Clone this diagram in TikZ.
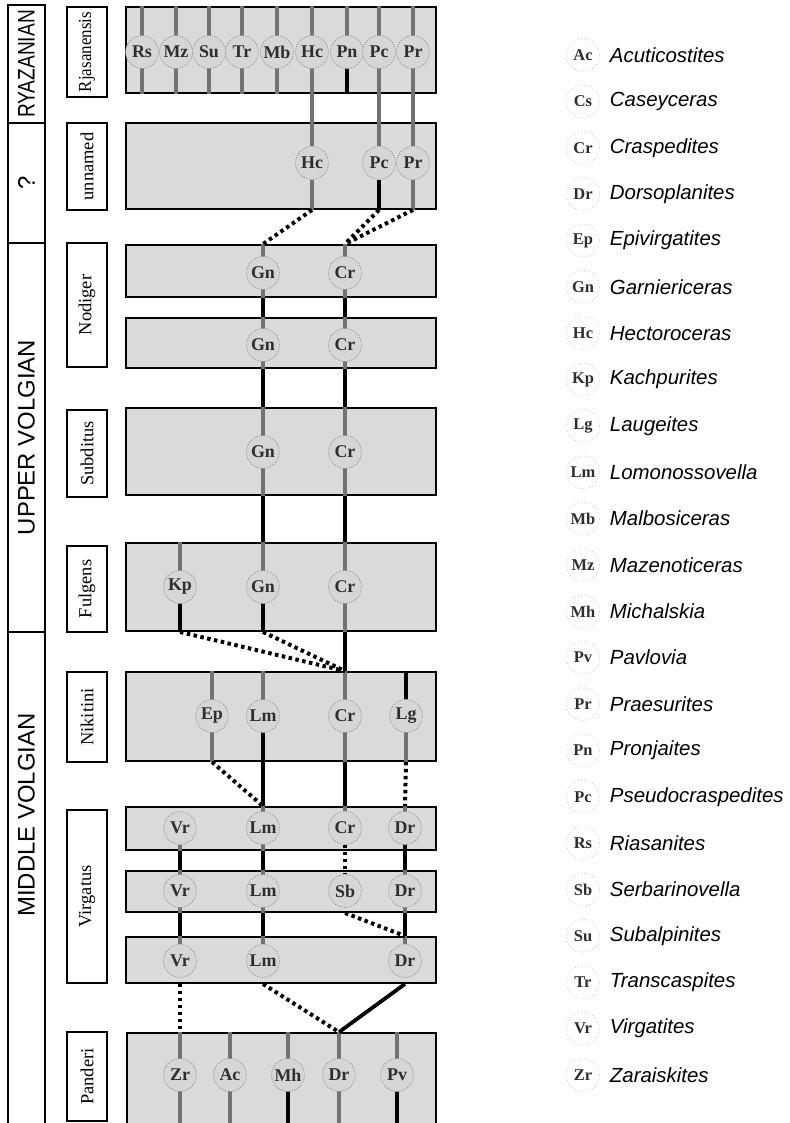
\documentclass[tikz,border=0pt]{standalone}
\usepackage{fontspec}
\setmainfont{Liberation Serif}
\setsansfont{Liberation Sans}
\usepackage{tikz}
\usetikzlibrary{positioning, fit, calc}
\definecolor{cZone} {HTML}{DADADA}
\definecolor{cTaxon}{HTML}{D6D6D6}
\definecolor{cRing} {HTML}{8A8A8A}
\definecolor{cStub} {HTML}{727272}
\definecolor{cInk}  {HTML}{2E2E2E}
\pgfdeclarelayer{front}
\pgfsetlayers{main,front}

\begin{document}
\begin{tikzpicture}[x=1bp, y=-1bp,
    era/.style={draw, line width=1.3pt, inner sep=0pt},
    eratext/.style={rotate=90, font=\sffamily\fontsize{24}{24}\selectfont},
    stagebox/.style={draw, line width=1.8pt, inner sep=0pt, fill=white},
    stagetext/.style={rotate=90, font=\fontsize{18.5}{18.5}\selectfont},
    zone/.style={draw, line width=1.9pt, fill=cZone, inner sep=0pt},
    taxon/.style={circle, draw=cRing, fill=cTaxon, line width=0.6pt, dash pattern=on 1.2pt off 1.2pt,
      minimum size=33, inner sep=0pt, text=cInk, font=\fontsize{18}{18}\selectfont\bfseries},
    key/.style={taxon, fill=white, draw=cRing!50, dash pattern=on 1pt off 2pt,
      font=\fontsize{16.5}{16.5}\selectfont\bfseries},
    genus/.style={font=\sffamily\itshape\fontsize{20.5}{20.5}\selectfont, inner sep=0pt},
    stub/.style={draw=cStub, line width=4.5pt},
    stubdark/.style={draw=black, line width=4pt},
    link/.style={draw=black, line width=3.8pt},
    gap/.style={draw=black, line width=4pt, dash pattern=on 3.5pt off 3.5pt},
  ]
  \path[use as bounding box] (0,0) rectangle (790,1123);

  % eras
  \node[era, fit={(8,5)(45,123)}]     (eRya) {};
  \node[era, fit={(8,123)(45,243)}]   (eUnk) {};
  \node[era, fit={(8,243)(45,632)}]   (eUpp) {};
  \node[era, fit={(8,632)(45,1130)}]  (eMid) {};
  \node[eratext, xscale=0.8] (tRya) at (eRya) {RYAZANIAN};
  \node[eratext] (tUnk) at (eUnk) {?};
  \node[eratext] (tUpp) at (eUpp) {UPPER VOLGIAN};
  \node[eratext] (tMid) at (26.5,815) {MIDDLE VOLGIAN};

  % zone names
  \node[stagebox, fit={(67,7)(107,97)}]      (sRja) {};
  \node[stagebox, fit={(67,123)(107,210)}]   (sUnn) {};
  \node[stagebox, fit={(67,243)(107,367)}]   (sNod) {};
  \node[stagebox, fit={(67,410)(107,497)}]   (sSub) {};
  \node[stagebox, fit={(67,546)(107,632)}]   (sFul) {};
  \node[stagebox, fit={(67,672)(107,762)}]   (sNik) {};
  \node[stagebox, fit={(67,810)(107,983)}]   (sVir) {};
  \node[stagebox, fit={(67,1032)(107,1121)}] (sPan) {};
  \node[stagetext, xscale=0.92] (nRja) at (sRja) {Rjasanensis};
  \node[stagetext] (nUnn) at (sUnn) {unnamed};
  \node[stagetext] (nNod) at (sNod) {Nodiger};
  \node[stagetext] (nSub) at (sSub) {Subditus};
  \node[stagetext] (nFul) at (sFul) {Fulgens};
  \node[stagetext] (nNik) at (sNik) {Nikitini};
  \node[stagetext] (nVir) at (sVir) {Virgatus};
  \node[stagetext] (nPan) at (sPan) {Panderi};

  % grey zones
  \node[zone, fit={(126,7)(436,93)}]     (zRja)  {};
  \node[zone, fit={(126,123)(436,209)}]  (zUnn)  {};
  \node[zone, fit={(126,245)(436,297)}]  (zNodA) {};
  \node[zone, fit={(126,318)(436,368)}]  (zNodB) {};
  \node[zone, fit={(126,408)(436,495)}]  (zSub)  {};
  \node[zone, fit={(126,543)(436,631)}]  (zFul)  {};
  \node[zone, fit={(126,672)(436,761)}]  (zNik)  {};
  \node[zone, fit={(126,807)(436,850)}]  (zVirA) {};
  \node[zone, fit={(126,871)(436,912)}]  (zVirB) {};
  \node[zone, fit={(126,937)(436,983)}]  (zVirC) {};
  \node[zone, fit={(127,1033)(436,1140)}] (zPan) {};

  \begin{pgfonlayer}{front}
    \foreach \t/\x in {Rs/142, Mz/176, Su/209, Tr/242, Mb/277, Hc/312, Pn/347, Pc/379, Pr/413}
      \node[taxon] (rja\t) at (\x,52) {\t};
    \foreach \t/\x in {Hc/312, Pc/379, Pr/413}
      \node[taxon] (unn\t) at (\x,163) {\t};
    \foreach \t/\x in {Gn/263, Cr/345} {
      \node[taxon] (nodA\t) at (\x,273) {\t};
      \node[taxon] (nodB\t) at (\x,345) {\t};
      \node[taxon] (sub\t)  at (\x,452) {\t};
    }
    \foreach \t/\x in {Kp/180, Gn/263, Cr/345}
      \node[taxon] (ful\t) at (\x,587) {\t};
    \foreach \t/\x in {Ep/212, Lm/263, Cr/345, Lg/406}
      \node[taxon] (nik\t) at (\x,716) {\t};
    \foreach \t/\x in {Vr/180, Lm/263, Cr/345, Dr/405}
      \node[taxon] (virA\t) at (\x,828) {\t};
    \foreach \t/\x in {Vr/180, Lm/263, Sb/345, Dr/405}
      \node[taxon] (virB\t) at (\x,891) {\t};
    \foreach \t/\x in {Vr/180, Lm/263, Dr/405}
      \node[taxon] (virC\t) at (\x,961) {\t};
    \foreach \t/\x in {Zr/180, Ac/230, Mh/288, Dr/339, Pv/397}
      \node[taxon] (pan\t) at (\x,1075) {\t};
  \end{pgfonlayer}

  % lines inside the zones
  \foreach \t in {Rs,Mz,Su,Tr,Mb,Hc,Pn,Pc,Pr}
    \draw[stub] (rja\t |- zRja.north) -- (rja\t |- zRja.south);
  \foreach \t in {Hc,Pc,Pr}
    \draw[stub] (rja\t) -- (unn\t) -- (unn\t |- zUnn.south);
  \foreach \t in {Gn,Cr}
    \draw[stub] (nodA\t |- zNodA.north) -- (nodA\t |- zNodA.south)
                (nodB\t |- zNodB.north) -- (nodB\t |- zNodB.south)
                (sub\t |- zSub.north) -- (sub\t |- zSub.south);
  \foreach \t in {Kp,Gn,Cr}
    \draw[stub] (ful\t |- zFul.north) -- (ful\t |- zFul.south);
  \foreach \t in {Ep,Lm,Cr,Lg}
    \draw[stub] (nik\t |- zNik.north) -- (nik\t |- zNik.south);
  \draw[stub] (virAVr) -- (virAVr |- zVirA.south)
              (virALm |- zVirA.north) -- (virALm |- zVirA.south)
              (virACr |- zVirA.north) -- (virACr)
              (virADr |- zVirA.north) -- (virADr |- zVirA.south);
  \foreach \t in {Vr,Lm,Dr}
    \draw[stub] (virB\t |- zVirB.north) -- (virB\t |- zVirB.south)
                (virC\t |- zVirC.north) -- (virC\t);
  \foreach \t in {Zr,Ac,Mh,Dr,Pv}
    \draw[stub] (pan\t |- zPan.north) -- (pan\t |- zPan.south);
  \draw[stubdark] (rjaPn) -- (rjaPn |- zRja.south) (unnPc) -- (unnPc |- zUnn.south)
                  (fulKp) -- (fulKp |- zFul.south) (fulGn) -- (fulGn |- zFul.south)
                  (nikLm) -- (nikLm |- zNik.south) (nikLg |- zNik.north) -- (nikLg)
                  (virADr) -- (virADr |- zVirA.south)
                  (panMh) -- (panMh |- zPan.south) (panPv) -- (panPv |- zPan.south);

  % lines between the zones
  \foreach \t in {Gn,Cr}
    \draw[link] (nodA\t |- zNodA.south) -- (nodB\t |- zNodB.north)
                (nodB\t |- zNodB.south) -- (sub\t |- zSub.north)
                (sub\t |- zSub.south) -- (ful\t |- zFul.north);
  \draw[link] (fulCr |- zFul.south) -- (nikCr |- zNik.north);
  \foreach \t in {Lm,Cr}
    \draw[link] (nik\t |- zNik.south) -- (virA\t |- zVirA.north);
  \foreach \t in {Vr,Lm,Dr}
    \draw[link] (virA\t |- zVirA.south) -- (virB\t |- zVirB.north)
                (virB\t |- zVirB.south) -- (virC\t |- zVirC.north);
  \draw[link] (virCDr |- zVirC.south) -- (panDr |- zPan.north);

  % dotted gaps
  \draw[gap] (unnHc |- zUnn.south) -- (nodAGn |- zNodA.north);
  \foreach \t in {Pc,Pr}
    \draw[gap] (unn\t |- zUnn.south) -- (nodACr |- zNodA.north);
  \foreach \t in {Kp,Gn}
    \draw[gap] (ful\t |- zFul.south) -- (nikCr |- zNik.north);
  \draw[gap] (nikEp |- zNik.south) -- (virALm |- zVirA.north);
  \draw[gap] (nikLg |- zNik.south) -- (virADr |- zVirA.north);
  \draw[gap] (virACr) -- (virBSb);
  \draw[gap] (virBSb |- zVirB.south) -- (virCDr |- zVirC.north);
  \draw[gap] (virCVr |- zVirC.south) -- (panZr |- zPan.north);
  \draw[gap] (virCLm |- zVirC.south) -- (panDr |- zPan.north);

  % key
  \foreach \ab/\gen [count=\i from 0] in {Ac/Acuticostites, Cs/Caseyceras, Cr/Craspedites,
      Dr/Dorsoplanites, Ep/Epivirgatites, Gn/Garniericeras, Hc/Hectoroceras, Kp/Kachpurites,
      Lg/Laugeites, Lm/Lomonossovella, Mb/Malbosiceras, Mz/Mazenoticeras, Mh/Michalskia,
      Pv/Pavlovia, Pr/Praesurites, Pn/Pronjaites, Pc/Pseudocraspedites, Rs/Riasanites,
      Sb/Serbarinovella, Su/Subalpinites, Tr/Transcaspites, Vr/Virgatites, Zr/Zaraiskites} {
    \node[key] (key\ab) at (583, 55+46.36*\i) {\ab};
    \node[genus, right=10bp of key\ab] (gen\ab) {\gen};
  }
\end{tikzpicture}
\end{document}
